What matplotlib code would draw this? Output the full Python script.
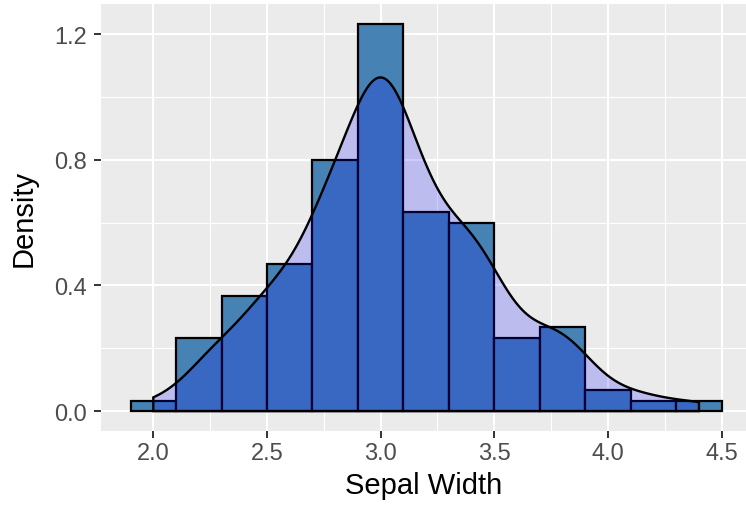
import numpy as np
import matplotlib
matplotlib.use("Agg")
from matplotlib import pyplot as plt

# iris Sepal.Width: distinct values and how often each occurs
sepal_width = [2.0, 2.2, 2.3, 2.4, 2.5, 2.6, 2.7, 2.8, 2.9, 3.0, 3.1, 3.2,
               3.3, 3.4, 3.5, 3.6, 3.7, 3.8, 3.9, 4.0, 4.1, 4.2, 4.4]
counts = [1, 3, 4, 3, 8, 5, 9, 14, 10, 26, 11, 13,
          6, 12, 6, 4, 3, 6, 2, 1, 1, 1, 1]

bin_width = 0.2
bin_edges = np.round(np.arange(1.9, 4.51, bin_width), 1)

x_ticks = [2.0, 2.5, 3.0, 3.5, 4.0, 4.5]
y_ticks = [0.0, 0.4, 0.8, 1.2]

values = np.repeat(sepal_width, counts)
n = len(values)

# histogram, bins closed on the right like ggplot
idx = np.searchsorted(bin_edges, values, side='left') - 1
bin_counts = np.bincount(idx, minlength=len(bin_edges) - 1)
bin_density = bin_counts / (n * bin_width)

# density, gaussian kernel with bw.nrd0
q1, q3 = np.percentile(values, [25, 75])
bw = 0.9 * min(values.std(ddof=1), (q3 - q1) / 1.34) * n ** -0.2
grid = np.linspace(values.min(), values.max(), 512)
dens = np.exp(-0.5 * ((grid[:, None] - values[None, :]) / bw) ** 2).sum(axis=1)
dens = dens / (n * bw * np.sqrt(2 * np.pi))

plt.rcParams['font.family'] = ['Liberation Sans', 'DejaVu Sans']

fig = plt.figure(figsize=(7.46, 5.06), dpi=100)
W, H = 746, 506
ax = fig.add_axes([101 / W, 1 - 431.5 / H, (746 - 101) / W, (431.5 - 5.2) / H])
ax.set_facecolor('#EBEBEB')

ax.bar(bin_edges[:-1], bin_density, width=bin_width, align='edge',
       color='#4682B4', edgecolor='black', linewidth=1.6, zorder=2)
poly_x = np.concatenate([[grid[0]], grid, [grid[-1]]])
poly_y = np.concatenate([[0], dens, [0]])
ax.fill(poly_x, poly_y, facecolor=(0, 0, 1, 0.2), edgecolor='black',
        linewidth=1.7, zorder=3)

ax.set_xlim(1.77, 4.5 + (746 - 721.7) / 227.4)
ytop = bin_density.max()
ax.set_ylim(-0.05 * ytop, 1.05 * ytop)

ax.set_xticks(x_ticks)
ax.set_xticklabels([f"{v:.1f}" for v in x_ticks])
ax.set_yticks(y_ticks)
ax.set_yticklabels([f"{v:.1f}" for v in y_ticks])
ax.set_xticks([2.25, 2.75, 3.25, 3.75, 4.25], minor=True)
ax.set_yticks([0.2, 0.6, 1.0], minor=True)

ax.grid(which='major', color='white', linewidth=1.5, zorder=0)
ax.grid(which='minor', color='white', linewidth=0.8, zorder=0)
ax.set_axisbelow(True)
for s in ax.spines.values():
    s.set_visible(False)

ax.tick_params(which='major', length=5, width=1.4, color='#333333',
               labelsize=17, labelcolor='#4D4D4D')
ax.tick_params(axis='x', pad=3.5)
ax.tick_params(axis='y', pad=5)
ax.tick_params(which='minor', length=0)

ax.set_xlabel("Sepal Width", fontsize=21, color='black', labelpad=5)
ax.set_ylabel("Density", fontsize=21, color='black', labelpad=12)

fig.savefig("out.png", dpi=100)
